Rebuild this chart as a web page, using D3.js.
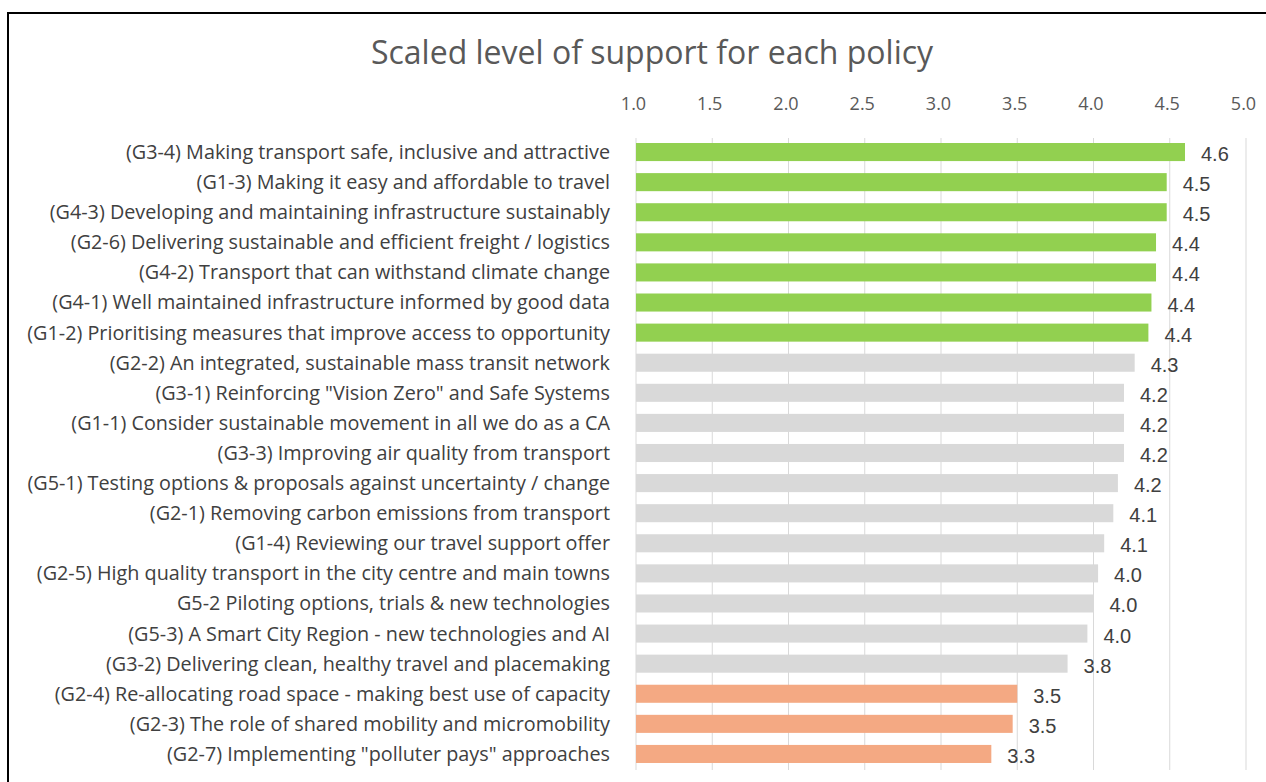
<!DOCTYPE html>
<html>
<head>
<meta charset="utf-8">
<script src="https://cdn.jsdelivr.net/npm/d3@7"></script>
<style>
  html, body { margin: 0; padding: 0; background: #fff; }
  svg { display: block; }
</style>
</head>
<body>
<svg id="chart" width="1266" height="782"></svg>
<script>
const title = "Scaled level of support for each policy";
const categories = [
  "(G3-4) Making transport safe, inclusive and attractive",
  "(G1-3) Making it easy and affordable to travel",
  "(G4-3) Developing and maintaining infrastructure sustainably",
  "(G2-6) Delivering sustainable and efficient freight / logistics",
  "(G4-2) Transport that can withstand climate change",
  "(G4-1) Well maintained infrastructure informed by good data",
  "(G1-2) Prioritising measures that improve access to opportunity",
  "(G2-2) An integrated, sustainable mass transit network",
  "(G3-1) Reinforcing \"Vision Zero\" and Safe Systems",
  "(G1-1) Consider sustainable movement in all we do as a CA",
  "(G3-3) Improving air quality from transport",
  "(G5-1) Testing options & proposals against uncertainty / change",
  "(G2-1) Removing carbon emissions from transport",
  "(G1-4) Reviewing our travel support offer",
  "(G2-5) High quality transport in the city centre and main towns",
  "G5-2 Piloting options, trials & new technologies",
  "(G5-3) A Smart City Region - new technologies and AI",
  "(G3-2) Delivering clean, healthy travel and placemaking",
  "(G2-4) Re-allocating road space - making best use of capacity",
  "(G2-3) The role of shared mobility and micromobility",
  "(G2-7) Implementing \"polluter pays\" approaches"
];
const values = [4.60, 4.48, 4.48, 4.41, 4.41, 4.38, 4.36, 4.27, 4.20, 4.20, 4.20, 4.16, 4.13, 4.07, 4.03, 4.00, 3.96, 3.83, 3.50, 3.47, 3.33];
const groups = ["high","high","high","high","high","high","high",
  "mid","mid","mid","mid","mid","mid","mid","mid","mid","mid","mid",
  "low","low","low"];
const tickValues = [1.0, 1.5, 2.0, 2.5, 3.0, 3.5, 4.0, 4.5, 5.0];
const groupColors = { high: "#92D050", mid: "#D9D9D9", low: "#F4A983" };

const svg = d3.select("#chart");
const font = "'Open Sans', Roboto, sans-serif";
const numFont = "'Liberation Sans', Arial, sans-serif";

// frame
svg.append("rect").attr("x", 8).attr("y", 13).attr("width", 1300).attr("height", 800)
  .attr("fill", "#fff").attr("stroke", "#000").attr("stroke-width", 2);

const x = d3.scaleLinear().domain([1, 5]).range([636, 1246]);
const y = d3.scaleBand().domain(categories).range([137, 769]).paddingInner(0.4).paddingOuter(0.2);

// title
svg.append("text").attr("x", 652).attr("y", 64).attr("text-anchor", "middle")
  .attr("font-family", font).attr("font-size", 32).attr("fill", "#595959").text(title);

// gridlines
svg.append("g").selectAll("line").data(tickValues).join("line")
  .attr("x1", d => x(d)).attr("x2", d => x(d))
  .attr("y1", 138).attr("y2", 770)
  .attr("stroke", "#D9D9D9").attr("stroke-width", 1);

// top axis
const axis = d3.axisTop(x).tickValues(tickValues).tickFormat(d3.format(".1f")).tickSize(0).tickPadding(0);
const ax = svg.append("g").attr("transform", "translate(-3,110)").call(axis);
ax.select(".domain").remove();
ax.selectAll("text").attr("font-family", font).attr("font-size", 18).attr("fill", "#595959").attr("dy", 0);

// bars
svg.append("g").selectAll("rect").data(categories).join("rect")
  .attr("x", x(1))
  .attr("y", d => y(d))
  .attr("width", (d, i) => x(values[i]) - x(1))
  .attr("height", y.bandwidth())
  .attr("fill", (d, i) => groupColors[groups[i]]);

// category labels
svg.append("g").selectAll("text").data(categories).join("text")
  .attr("x", 610)
  .attr("y", d => y(d) + y.bandwidth() / 2)
  .attr("dy", "0.35em")
  .attr("text-anchor", "end")
  .attr("font-family", font).attr("font-size", 19.8).attr("fill", "#404040")
  .text(d => d);

// value labels
svg.append("g").selectAll("text").data(categories).join("text")
  .attr("x", (d, i) => x(values[i]) + 16)
  .attr("y", d => y(d) + y.bandwidth() / 2 + 2)
  .attr("dy", "0.35em")
  .attr("font-family", numFont).attr("font-size", 20).attr("fill", "#404040")
  .text((d, i) => d3.format(".1f")(values[i]));
</script>
</body>
</html>
